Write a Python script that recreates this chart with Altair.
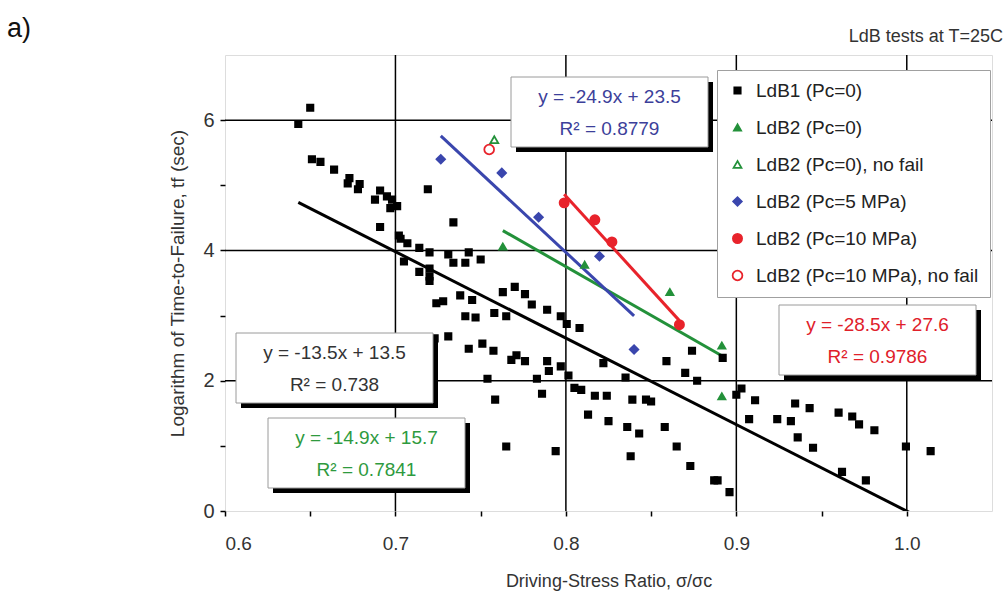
import altair as alt
import pandas as pd

# ---------------- data ----------------
ldb1_x = [0.650, 0.643, 0.651, 0.656, 0.664, 0.673, 0.672, 0.679, 0.678, 0.691,
          0.688, 0.695, 0.698, 0.697, 0.701, 0.691, 0.702, 0.703, 0.707, 0.714,
          0.720, 0.731, 0.734, 0.705, 0.714, 0.720, 0.720, 0.720, 0.719, 0.734,
          0.743, 0.741, 0.750, 0.738, 0.745, 0.724, 0.728, 0.741, 0.747, 0.723,
          0.731, 0.763, 0.770, 0.776, 0.780, 0.789, 0.797, 0.8005, 0.808, 0.758,
          0.765, 0.743, 0.751, 0.7575, 0.768, 0.771, 0.776, 0.789, 0.790, 0.797,
          0.754, 0.783, 0.8015, 0.822, 0.835, 0.859, 0.870, 0.874, 0.877, 0.805,
          0.809, 0.817, 0.824, 0.839, 0.847, 0.850, 0.786, 0.7585, 0.813, 0.825,
          0.836, 0.843, 0.858, 0.865, 0.838, 0.765, 0.794, 0.873, 0.887, 0.889,
          0.892, 0.900, 0.903, 0.911, 0.9075, 0.924, 0.932, 0.9345, 0.943, 0.936,
          0.945, 0.960, 0.968, 0.972, 0.981, 0.962, 0.976, 0.9995, 1.014, 0.896]
ldb1_y = [6.19, 5.94, 5.40, 5.36, 5.24, 5.11, 5.03, 5.02, 4.94, 4.92,
          4.78, 4.83, 4.78, 4.65, 4.68, 4.36, 4.23, 4.18, 4.11, 4.04,
          3.97, 3.94, 3.81, 3.83, 3.67, 3.72, 3.60, 3.53, 4.94, 4.43,
          3.97, 3.81, 3.86, 3.31, 3.24, 3.19, 3.22, 2.99, 2.97, 2.65,
          2.68, 3.36, 3.44, 3.33, 3.17, 3.09, 2.99, 2.87, 2.81, 3.04,
          2.99, 2.49, 2.57, 2.46, 2.32, 2.39, 2.30, 2.30, 2.15, 2.22,
          2.03, 2.03, 2.08, 2.27, 2.05, 2.30, 2.12, 2.46, 2.00, 1.89,
          1.86, 1.77, 1.77, 1.71, 1.71, 1.68, 1.80, 1.71, 1.48, 1.38,
          1.29, 1.19, 1.29, 0.99, 0.84, 0.99, 0.92, 0.69, 0.47, 0.47,
          2.35, 1.785, 1.88, 1.70, 1.41, 1.41, 1.38, 1.65, 1.58, 1.13,
          0.97, 1.51, 1.45, 1.33, 1.24, 0.60, 0.47, 0.99, 0.92, 0.29]

ldb2_pc0_x = [0.763, 0.811, 0.861, 0.8915, 0.8915]
ldb2_pc0_y = [4.06, 3.78, 3.36, 2.54, 1.76]
ldb2_pc0_nofail_x = [0.758]
ldb2_pc0_nofail_y = [5.70]
ldb2_pc5_x = [0.7266, 0.7624, 0.784, 0.8197, 0.840]
ldb2_pc5_y = [5.40, 5.19, 4.51, 3.91, 2.48]
ldb2_pc10_x = [0.799, 0.817, 0.827, 0.8666]
ldb2_pc10_y = [4.73, 4.47, 4.13, 2.86]
ldb2_pc10_nofail_x = [0.755]
ldb2_pc10_nofail_y = [5.55]

series_names = ["LdB1 (Pc=0)", "LdB2 (Pc=0)", "LdB2 (Pc=0), no fail",
                "LdB2 (Pc=5 MPa)", "LdB2 (Pc=10 MPa)", "LdB2 (Pc=10 MPa), no fail"]

x_ticks = [0.6, 0.65, 0.7, 0.75, 0.8, 0.85, 0.9, 0.95, 1.0]
y_ticks = [0, 1, 2, 3, 4, 5, 6]
x_grid = [0.7, 0.8, 0.9, 1.0]
y_grid = [2, 4, 6]

eq_lines = [
    ("y = -24.9x + 23.5", "R\u00b2 = 0.8779"),
    ("y = -13.5x + 13.5", "R\u00b2 = 0.738"),
    ("y = -14.9x + 15.7", "R\u00b2 = 0.7841"),
    ("y = -28.5x + 27.6", "R\u00b2 = 0.9786"),
]

# ---------------- styles / layout ----------------
BLACK = "#000000"
GREEN = "#23913a"
BLUE = "#3a46ad"
RED = "#e8232b"
FONT = "Liberation Sans"
W, H = 767, 456

colors = [BLACK, GREEN, GREEN, BLUE, RED, RED]
fills = [BLACK, GREEN, "#ffffff", BLUE, RED, "#ffffff"]
shapes = ["square", "triangle-up", "triangle-up", "diamond", "circle", "circle"]
sizes = [40, 95, 80, 110, 95, 70]
text_colors = ["#3c3f9a", "#333333", "#2e9a3e", "#e0202a"]

rows = []
for name, xs, ys in [
    (series_names[0], ldb1_x, ldb1_y),
    (series_names[1], ldb2_pc0_x, ldb2_pc0_y),
    (series_names[2], ldb2_pc0_nofail_x, ldb2_pc0_nofail_y),
    (series_names[3], ldb2_pc5_x, ldb2_pc5_y),
    (series_names[4], ldb2_pc10_x, ldb2_pc10_y),
    (series_names[5], ldb2_pc10_nofail_x, ldb2_pc10_nofail_y),
]:
    for xv, yv in zip(xs, ys):
        rows.append({"series": name, "x": xv, "y": yv})
pts = pd.DataFrame(rows)

xscale = alt.Scale(domain=[0.6, 1.05], nice=False, zero=False)
yscale = alt.Scale(domain=[0, 7], nice=False, zero=False)

x_axis = alt.Axis(
    values=x_ticks, grid=False, domain=False, tickSize=5, tickColor="black", tickWidth=1.5,
    labelExpr="(round(datum.value*100) % 10 == 0) ? format(datum.value, '.1f') : ''",
    labelFont=FONT, labelFontSize=19, labelColor="#333333", labelPadding=18,
    title="Driving-Stress Ratio, \u03c3/\u03c3c", titleFont=FONT, titleFontSize=18,
    titleFontWeight="normal", titleColor="#333333", titleY=70, titleBaseline="middle",
)
y_axis = alt.Axis(
    values=y_ticks, grid=False, domain=False, tickSize=5, tickColor="black", tickWidth=1.5,
    labelExpr="datum.value % 2 == 0 ? format(datum.value, 'd') : ''",
    labelFont=FONT, labelFontSize=20, labelColor="#333333", labelPadding=6,
    title="Logarithm of Time-to-Failure, tf (sec)", titleFont=FONT, titleFontSize=19,
    titleFontWeight="normal", titleColor="#333333", titleX=-48, titleY=H / 2,
    titleAngle=270, titleAlign="center", titleBaseline="middle",
)

gx = alt.Chart(pd.DataFrame({"g": x_grid})).mark_rule(color="black", strokeWidth=1.5).encode(
    x=alt.X("g:Q", scale=xscale, axis=x_axis))
gy = alt.Chart(pd.DataFrame({"g": y_grid})).mark_rule(color="black", strokeWidth=1.5).encode(
    y=alt.Y("g:Q", scale=yscale, axis=y_axis))


def fit(name, color):
    return alt.Chart(pts).transform_filter(
        alt.datum.series == name
    ).transform_regression("x", "y").mark_line(color=color, strokeWidth=3, clip=True).encode(
        x=alt.X("x:Q", scale=xscale), y=alt.Y("y:Q", scale=yscale))


fits = [fit(series_names[0], BLACK), fit(series_names[1], GREEN),
        fit(series_names[3], BLUE), fit(series_names[4], RED)]

legend = alt.Legend(
    title=None, orient="none", legendX=492, legendY=15, fillColor="white",
    strokeColor="#a0a0a0", padding=11, labelFont=FONT, labelFontSize=19,
    labelColor="#222222", rowPadding=17, labelOffset=9, symbolStrokeWidth=1.8,
    labelLimit=400,
)
points = alt.Chart(pts).mark_point(opacity=1, fillOpacity=1, strokeWidth=1.8).encode(
    x=alt.X("x:Q", scale=xscale),
    y=alt.Y("y:Q", scale=yscale),
    shape=alt.Shape("series:N", scale=alt.Scale(domain=series_names, range=shapes), legend=legend),
    fill=alt.Fill("series:N", scale=alt.Scale(domain=series_names, range=fills), legend=legend),
    stroke=alt.Stroke("series:N", scale=alt.Scale(domain=series_names, range=colors), legend=legend),
    size=alt.Size("series:N", scale=alt.Scale(domain=series_names, range=sizes), legend=legend),
)

# annotation boxes (pixel positions relative to the plot area)
box_left = [286, 11, 43, 554]
box_top = [22, 278, 363, 250]
BW, BH, SH = 197, 70, 5
boxes = pd.DataFrame({
    "x0": box_left, "x1": [v + BW for v in box_left],
    "y0": box_top, "y1": [v + BH for v in box_top],
    "sx0": [v + SH for v in box_left], "sx1": [v + BW + SH for v in box_left],
    "sy0": [v + SH for v in box_top], "sy1": [v + BH + SH for v in box_top],
})
shadow = alt.Chart(boxes).mark_rect(color="black").encode(
    x=alt.X("sx0:Q", scale=None), x2="sx1:Q", y=alt.Y("sy0:Q", scale=None), y2="sy1:Q")
panel = alt.Chart(boxes).mark_rect(fill="white", stroke="#9a9a9a", strokeWidth=1).encode(
    x=alt.X("x0:Q", scale=None), x2="x1:Q", y=alt.Y("y0:Q", scale=None), y2="y1:Q")

trows = []
for (l1, l2), left, top, col in zip(eq_lines, box_left, box_top, text_colors):
    trows.append({"t": l1, "px": left + BW / 2, "py": top + 20, "c": col})
    trows.append({"t": l2, "px": left + BW / 2, "py": top + 52, "c": col})
texts = alt.Chart(pd.DataFrame(trows)).mark_text(font=FONT, fontSize=19, baseline="middle").encode(
    x=alt.X("px:Q", scale=None), y=alt.Y("py:Q", scale=None), text="t:N",
    color=alt.Color("c:N", scale=None))

corner = alt.Chart(pd.DataFrame({"t": ["a)"]})).mark_text(
    font=FONT, fontSize=27, align="left", baseline="middle", color="#111111").encode(
    x=alt.value(-218), y=alt.value(-26), text="t:N")
subtitle = alt.Chart(pd.DataFrame({"t": ["LdB tests at T=25C"]})).mark_text(
    font=FONT, fontSize=18, align="right", baseline="middle", color="#333333").encode(
    x=alt.value(778), y=alt.value(-18), text="t:N")

chart = alt.layer(gx, gy, *fits, points, shadow, panel, texts, corner, subtitle).properties(
    width=W, height=H, autosize="none",
    padding={"left": 225, "top": 55, "right": 16, "bottom": 85},
).configure_view(stroke="black", strokeWidth=2.5).configure(background="white")

chart.save("out.html", embed_options={"renderer": "svg", "actions": False})
